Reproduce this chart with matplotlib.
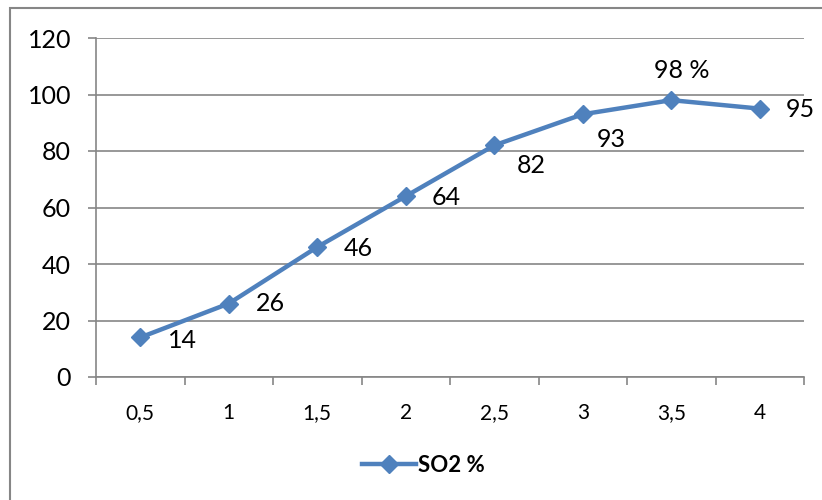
import matplotlib.pyplot as plt
from matplotlib.patches import Rectangle

plt.rcParams['font.family'] = ['Lato', 'DejaVu Sans']

categories = ['0,5', '1', '1,5', '2', '2,5', '3', '3,5', '4']
so2 = [14, 26, 46, 64, 82, 93, 98, 95]
point_labels = ['14', '26', '46', '64', '82', '93', '98 %', '95']
# label offsets in pixels (dx, dy) and horizontal alignment
label_offsets = [(28, -3, 'left'), (27, 0, 'left'), (26, -1, 'left'), (26, -1, 'left'),
                 (23, -20, 'left'), (14, -25, 'left'), (10, 30, 'center'), (26, -1, 'left')]

blue = '#4F81BD'
grey = '#868686'

fig = plt.figure(figsize=(8.22, 5), dpi=100)
ax = fig.add_axes([96 / 822, 1 - 377 / 500, (804 - 96) / 822, (377 - 38) / 500])

x = [i + 0.5 for i in range(len(categories))]
ax.plot(x, so2, color=blue, lw=3.2, marker='D', markersize=9.5, label='SO2 %')

for xi, yi, lab, (dx, dy, ha) in zip(x, so2, point_labels, label_offsets):
    ax.annotate(lab, (xi, yi), xytext=(dx, dy), textcoords='offset pixels',
                ha=ha, va='center', fontsize=18, color='black')

ax.set_xlim(0, len(categories))
ax.set_ylim(0, 120)
ax.set_yticks(range(0, 121, 20))
ax.yaxis.grid(True, color=grey, lw=1.2)
ax.set_axisbelow(True)
ax.set_xticks(x)
ax.set_xticklabels(categories)
ax.set_xticks(range(len(categories) + 1), minor=True)
ax.tick_params(axis='x', which='major', length=0, pad=19, labelsize=15)
ax.tick_params(axis='x', which='minor', length=6, width=1.2, color=grey, direction='out')
ax.tick_params(axis='y', length=6, width=1.2, color=grey, pad=12, labelsize=18)
for s in ['top', 'right']:
    ax.spines[s].set_visible(False)
for s in ['left', 'bottom']:
    ax.spines[s].set_color(grey)
    ax.spines[s].set_linewidth(1.2)

fig.legend(loc='center', bbox_to_anchor=(0.515, 0.07), frameon=False,
           prop={'weight': 'bold', 'size': 16}, handlelength=2.4, handletextpad=0.1)

fig.patches.append(Rectangle((10 / 822, -0.1), 1.2, 1 - 8 / 500 + 0.1, transform=fig.transFigure,
                             fill=False, edgecolor=grey, lw=1.5))

fig.savefig('out.png', dpi=100)
